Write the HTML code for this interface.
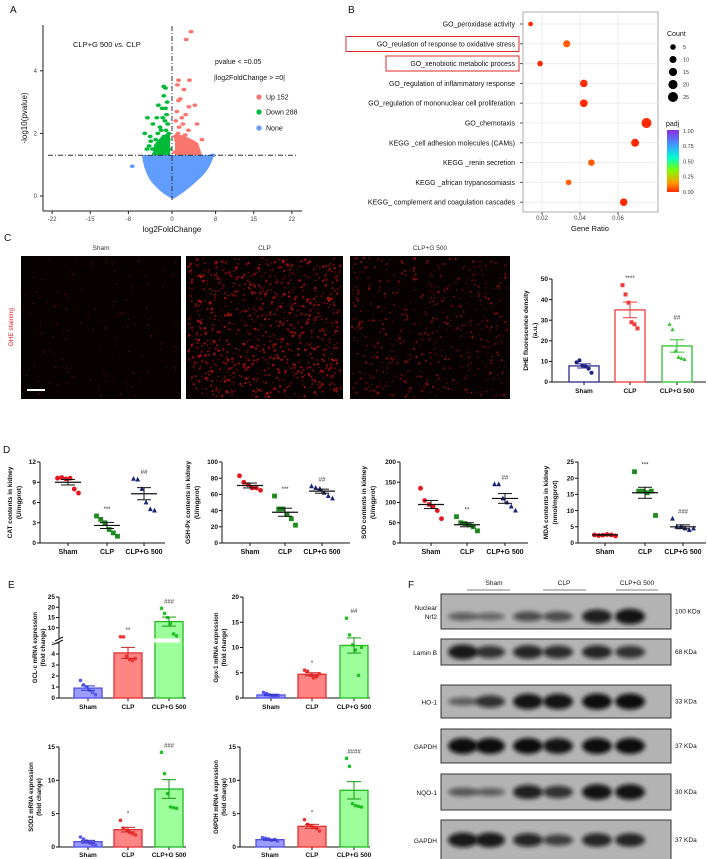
<!DOCTYPE html>
<html><head><meta charset="utf-8">
<style>
html,body{margin:0;padding:0;background:#fff;}
svg{display:block;font-family:"Liberation Sans",sans-serif;}
</style></head>
<body>
<svg id="fig" width="708" height="859" viewBox="0 0 708 859" xmlns="http://www.w3.org/2000/svg">
<defs>
<filter id="blur2" x="-50%" y="-50%" width="200%" height="200%"><feGaussianBlur stdDeviation="2.2"/></filter>
<linearGradient id="padjgrad" x1="0" y1="1" x2="0" y2="0">
<stop offset="0" stop-color="#ff2a00"/><stop offset="0.15" stop-color="#ff9a00"/><stop offset="0.35" stop-color="#7fff00"/><stop offset="0.55" stop-color="#00ffcc"/><stop offset="0.75" stop-color="#3aa0ff"/><stop offset="1" stop-color="#8a2be2"/>
</linearGradient>
</defs>
</svg>
<script>
// ---------- DATA ----------
const upFC   = [3.5,2.6,1.2,3.2,1.0,2.2,1.5,1.2,4.2,3.1,0.9,2.5,1.8,0.7,4.6,1.3,3.0,0.6,2.1,5.5,3.8,1.0,4.5,2.5,0.5,1.8,3.4,4.0,1.6,2.8,0.8,3.6,2.0,1.1,3.9,2.4];
const upP    = [5.25,5.0,3.7,3.7,3.55,3.4,3.1,3.05,2.9,2.85,2.7,2.6,2.5,2.4,2.3,2.2,2.1,1.9,1.9,1.8,1.7,1.6,1.5,1.5,1.4,1.4,1.4,1.35,1.7,1.6,1.8,1.5,2.3,2.0,1.6,1.95];
const downFC = [-1.5,-1.2,-1.5,-0.9,-2.5,-1.8,-1.0,-4.5,-2.8,-1.3,-3.5,-0.8,-5.0,-2.0,-4.0,-3.0,-1.5,-2.4,-4.2,-3.6,-1.0,-0.5,-2.8,-1.8,-3.2,-0.6,-1.1,-1.7,-2.2,-0.7,-1.4,-0.9,-3.9,-2.6,-1.2,-4.6];
const downP  = [3.5,3.45,3.2,3.0,2.9,2.8,2.6,2.5,2.5,2.4,2.3,2.3,2.0,2.1,1.9,1.8,1.9,1.7,1.6,1.5,1.6,1.5,1.45,1.4,1.35,2.0,2.1,2.5,2.2,1.8,1.6,1.7,1.75,2.0,2.8,1.5];
const noneFC = [-7.3,6.5,6.2,7.5,3.5,-4.5,4.8];
const noneP  = [0.95,1.1,1.0,1.3,1.2,1.25,1.2];
const volcTicksX = [-22,-15,-8,0,8,15,22];
const volcTicksY = [0,2,4];
const goTerms = ["GO_peroxidase activity","GO_reulation of response to oxidative stress","GO_xenobiotic metabolic process","GO_regulation of inflammatory response","GO_regulation of mononuclear cell proliferation","GO_chemotaxis","KEGG _cell adhesion molecules (CAMs)","KEGG _renin secretion","KEGG _african trypanosomiasis","KEGG_ complement and coagulation cascades"];
const geneRatio = [0.014,0.033,0.019,0.042,0.042,0.075,0.069,0.046,0.034,0.063];
const termCount = [3,10,5,12,13,25,14,8,5,12];
const termPadj  = [0.02,0.03,0.02,0.02,0.01,0.0,0.02,0.03,0.03,0.01];
const ratioTicks = [0.02,0.04,0.06];
const countLegend = [5,10,15,20,25];
const padjTicks = ["1.00","0.75","0.50","0.25","0.00"];
const groups = ["Sham","CLP","CLP+G 500"];
const dheMean = [7.8,35,17.5];
const dheSem  = [1.0,3.8,3.0];
const dhePts  = [[9.5,10.5,8,7.5,6.5,4.5],[47,42.5,38.5,29,28,26],[28,25.5,15,12,11.5,11]];
const dheTicks = [0,10,20,30,40,50];
const catPts = [[9.6,9.7,9.5,9.6,8.0,7.4],[4.0,3.5,3.0,2.0,1.5,1.0],[9.5,9.4,8.0,6.0,5.0,4.8]];
const catMean = [9.0,2.6,7.3]; const catSem=[0.4,0.45,0.9];
const gshPts = [[83,75,72,68,68,65],[58,42,42,35,30,22],[70,68,67,62,58,55]];
const gshMean = [71,38,64]; const gshSem=[3,5,2.5];
const sodPts = [[135,105,95,90,80,60],[65,50,48,45,40,30],[145,145,110,100,90,80]];
const sodMean = [95,45,110]; const sodSem=[10,5,12];
const mdaPts = [[2.5,2.3,2.4,2.6,2.5,2.2],[22,16,16,15.5,16,8.5],[7.5,5,5,4.5,4,4.5]];
const mdaMean = [2.5,15.5,5.0]; const mdaSem=[0.1,1.7,0.6];
const gclPts = [[1.6,1.2,1.0,0.7,0.5,0.3],[5.6,5.5,3.8,3.5,3.4,3.6],[19.5,17,15,12,7,6]];
const gclMean=[0.9,4.1,13]; const gclSem=[0.2,0.5,2.2];
const gpxPts = [[1.1,0.9,0.6,0.4,0.3,0.5],[5.5,5.3,4.5,4.0,4.2,4.8],[15.8,12.5,10.5,9.5,4.5,10]];
const gpxMean=[0.6,4.7,10.4]; const gpxSem=[0.15,0.3,1.5];
const sod2Pts = [[1.5,1.2,0.9,0.6,0.4,0.3],[4.0,2.8,2.5,2.2,2.0,1.8],[14.2,11,8,6,5.9,5.8]];
const sod2Mean=[0.8,2.6,8.7]; const sod2Sem=[0.2,0.35,1.4];
const g6Pts = [[1.4,1.3,1.2,1.0,1.1,0.9],[4.1,3.4,3.2,3.0,2.8,2.4],[13.3,12.1,6.5,6.2,6.1,6.0]];
const g6Mean=[1.1,3.1,8.5]; const g6Sem=[0.1,0.3,1.3];
const blotNames = ["Nuclear\nNrf2","Lamin B","HO-1","GAPDH","NQO-1","GAPDH"];
const blotKDa = ["100 KDa","68 KDa","33 KDa","37 KDa","30 KDa","37 KDa"];
const blotInt = [[0.35,0.3,0.5,0.5,0.85,0.95],[0.9,0.7,0.8,0.75,0.8,0.7],[0.35,0.7,0.95,0.95,1,1],[1,1,1,0.95,1,1],[0.4,0.35,0.85,0.7,0.95,0.95],[0.9,0.9,0.8,0.6,0.8,0.8]];

// ---------- HELPERS ----------
const NS="http://www.w3.org/2000/svg";
const svg=document.getElementById('fig');
function el(tag,attrs,parent){const e=document.createElementNS(NS,tag);for(const k in attrs)e.setAttribute(k,attrs[k]);(parent||svg).appendChild(e);return e;}
function txt(x,y,s,size,parent,extra){const a=Object.assign({x:x,y:y,'font-size':size,fill:'#111'},extra||{});const t=el('text',a,parent);t.textContent=s;return t;}
function grp(name){const g=el('g',{});return g;}

[["A",10,13],["B",348,13],["C",4,241],["D",3,453],["E",8,588],["F",408,588]].forEach(p=>{
 const t=txt(p[1],p[2],p[0],10,svg,{});
 
 
});

// ---------- PANEL A ----------
(function(){
 const g=grp('volcano-plot');
 const xA=v=>172+v*5.45, yA=v=>196-v*31.3;
 el('line',{x1:43,y1:25,x2:43,y2:211,stroke:'#222','stroke-width':1},g);
 el('line',{x1:43,y1:211,x2:302,y2:211,stroke:'#222','stroke-width':1},g);
 volcTicksX.forEach(v=>{el('line',{x1:xA(v),y1:211,x2:xA(v),y2:214,stroke:'#222'},g);
  const t=txt(xA(v),221,String(v),6,g,{'text-anchor':'middle',fill:'#444'});});
 volcTicksY.forEach(v=>{el('line',{x1:40,y1:yA(v),x2:43,y2:yA(v),stroke:'#222'},g);
  const t=txt(37,yA(v)+2,String(v),6,g,{'text-anchor':'end',fill:'#444'});});
 const xt=txt(172,232,'log2FoldChange',8,g,{'text-anchor':'middle'});
 const yt=txt(0,0,'-log10(pvalue)',8,g,{'text-anchor':'middle',transform:'translate(27,118) rotate(-90)'});
 const cloud=el('path',{d:'M142,155 L214,155 Q210,170 198,180 Q184,193 173,199 Q160,193 150,180 Q143,168 142,155 Z',fill:'#619cff'},g);
 
 const dense1=el('path',{d:'M153,155 L170,155 L170,132 Q160,136 154,145 Z',fill:'#00ba38'},g);
 
 const dense2=el('path',{d:'M175,155 L202,155 L198,143 Q188,136 175,134 Z',fill:'#f8766d'},g);
 
 noneFC.forEach((v,i)=>{const c=el('ellipse',{cx:xA(v),cy:yA(noneP[i]),rx:2.5,ry:1.8,fill:'#619cff'},g);});
 downFC.forEach((v,i)=>{const c=el('ellipse',{cx:xA(v),cy:yA(downP[i]),rx:2.5,ry:1.8,fill:'#00ba38'},g);});
 upFC.forEach((v,i)=>{const c=el('ellipse',{cx:xA(v),cy:yA(upP[i]),rx:2.5,ry:1.8,fill:'#f8766d'},g);});
 el('line',{x1:48,y1:yA(1.3),x2:298,y2:yA(1.3),stroke:'#333','stroke-width':1,'stroke-dasharray':'5,2,1,2'},g);
 el('line',{x1:172,y1:26,x2:172,y2:200,stroke:'#333','stroke-width':1,'stroke-dasharray':'5,2,1,2'},g);
 const ti=txt(73,47,'CLP+G 500 ',7.5,g,{});const ts=el('tspan',{'font-style':'italic'},ti);ts.textContent='vs.';const ts2=el('tspan',{},ti);ts2.textContent=' CLP';
 
 const l1=txt(215,64,'pvalue < =0.05',7,g,{});
 const l2=txt(214,80,'|log2FoldChange > =0|',7,g,{});
 [['Up 152','#f8766d',97],['Down 288','#00ba38',112],['None','#619cff',128]].forEach(e=>{
  const lg=grp('legend-entry');svg.removeChild(lg);g.appendChild(lg);
  el('circle',{cx:259,cy:e[2],r:2.6,fill:e[1]},lg);txt(266,e[2]+2.5,e[0],7,lg,{});});
})();

// ---------- PANEL B ----------
(function(){
 const g=grp('go-kegg-dotplot');
 const x0=523,x1=658,yT=12,yB=212;
 const xB=r=>542+(r-0.02)*1900;
 const yRow=i=>24+i*19.8;
 el('rect',{x:x0,y:yT,width:x1-x0,height:yB-yT,fill:'#fff',stroke:'#999','stroke-width':0.8},g);
 ratioTicks.forEach(r=>{el('line',{x1:xB(r),y1:yT,x2:xB(r),y2:yB,stroke:'#ececec'},g);
  el('line',{x1:xB(r),y1:yB,x2:xB(r),y2:yB+3,stroke:'#555'},g);
  const t=txt(xB(r),220,r.toFixed(2),6,g,{'text-anchor':'middle',fill:'#444'});});
 goTerms.forEach((s,i)=>{el('line',{x1:x0,y1:yRow(i),x2:x1,y2:yRow(i),stroke:'#ececec'},g);
  el('line',{x1:x0-3,y1:yRow(i),x2:x0,y2:yRow(i),stroke:'#555'},g);
  const t=txt(515,yRow(i)+2.5,s,7,g,{'text-anchor':'end'});});
 const rad=c=>1+Math.sqrt(c)*0.8;
 goTerms.forEach((s,i)=>{const col=termPadj[i]>0.02?'#ff5a00':'#ff2a00';
  const c=el('circle',{cx:xB(geneRatio[i]),cy:yRow(i),r:rad(termCount[i]),fill:col},g);});
 const h1=el('rect',{x:346,y:36.5,width:173,height:15,fill:'none',stroke:'#e0282c','stroke-width':1},g);
 const h2=el('rect',{x:386,y:56,width:133,height:15,fill:'none',stroke:'#e0282c','stroke-width':1},g);
 const gx=txt(590,231,'Gene Ratio',7.5,g,{'text-anchor':'middle'});
 const ct=txt(667,36,'Count',7,g,{});
 countLegend.forEach((c,i)=>{const y=47+i*12.5;el('circle',{cx:673,cy:y,r:rad(c),fill:'#000'},g);const t=txt(683,y+2,String(c),5.5,g,{fill:'#333'});});
 const pt=txt(666,126,'padj',7,g,{});
 const cb=el('rect',{x:667,y:130,width:12,height:62,fill:'url(#padjgrad)'},g);
 padjTicks.forEach((s,i)=>{const y=131+i*15.2;txt(683,y+2,s,5.5,g,{fill:'#333'});});
})();

// ---------- PANEL C images ----------
(function(){
 const imgs=[[21,181,'Sham',160,'#5a0808',0.8],[186,343,'CLP',900,'#b81414',1.05],[350,510,'CLP+G 500',520,'#961010',1.0]];
 let seed=12345;const rnd=()=>{seed=(seed*1103515245+12345)%2147483648;return seed/2147483648;};
 imgs.forEach(im=>{
  const g=grp('dhe-image-'+im[2].toLowerCase().replace(/[^a-z0-9]+/g,'-'));
  el('rect',{x:im[0],y:256,width:im[1]-im[0],height:143,fill:'#070101'},g);
  const t=txt((im[0]+im[1])/2,250,im[2],6.5,g,{'text-anchor':'middle',fill:'#333'});
  for(let k=0;k<im[3];k++){el('circle',{cx:im[0]+2+rnd()*(im[1]-im[0]-4),cy:258+rnd()*139,r:im[5]*(0.6+rnd()*0.7),fill:im[4],opacity:0.4+rnd()*0.5},g);}
 });
 const sb=el('rect',{x:27,y:389,width:18,height:2,fill:'#fff'},svg);
 const dl=txt(0,0,'DHE staining',6.5,svg,{'text-anchor':'middle',fill:'#e02020',transform:'translate(13,327) rotate(-90)'});
})();

const C_SCAT=['#e8141c','#1f8a1f','#1a237e'];
function marker(shape,x,y,col,g,s){
 let m;
 if(shape==='circle')m=el('circle',{cx:x,cy:y,r:s,fill:col},g);
 else if(shape==='square')m=el('rect',{x:x-s,y:y-s,width:2*s,height:2*s,fill:col},g);
 else m=el('polygon',{points:`${x},${y-s*1.2} ${x-s},${y+s*0.8} ${x+s},${y+s*0.8}`,fill:col},g);
 return m;
}
function plot(o){
 const g=grp(o.name);
 const y=o.yf||(v=>o.yB-(v/o.max)*(o.yB-o.yT));
 el('line',{x1:o.x0,y1:o.yT,x2:o.x0,y2:o.yB,stroke:'#111','stroke-width':1},g);
 el('line',{x1:o.x0,y1:o.yB,x2:o.x1,y2:o.yB,stroke:'#111','stroke-width':1},g);
 o.ticks.forEach(v=>{el('line',{x1:o.x0-3,y1:y(v),x2:o.x0,y2:y(v),stroke:'#111'},g);
  const t=txt(o.x0-4,y(v)+2.2,String(v),6.5,g,{'text-anchor':'end','font-weight':'bold'});});
 groups.forEach((s,i)=>{el('line',{x1:o.cx[i],y1:o.yB,x2:o.cx[i],y2:o.yB+3,stroke:'#111'},g);
  const t=txt(o.cx[i],o.yB+(o.labDy||11),s,o.labSize||7,g,{'text-anchor':'middle','font-weight':'bold'});});
 o.titles.forEach((s,k)=>{const t=txt(0,0,s,o.titleSize||6.5,g,{'text-anchor':'middle','font-weight':'bold',transform:`translate(${o.tx+k*(o.titleGap||9)},${(o.yT+o.yB)/2}) rotate(-90)`});});
 for(let i=0;i<3;i++){
  const m=o.mean[i],se=o.sem[i],cx=o.cx[i];
  if(o.bars){const b=el('rect',{x:cx-o.bw/2,y:y(m),width:o.bw,height:o.yB-y(m),fill:o.bars[i][0],stroke:o.bars[i][1],'stroke-width':1.3},g);}
  o.pts[i].forEach((v,j)=>marker(o.shapes[i],cx+(j-2.5)*(o.jit||3.2),y(v),o.pcol[i],g,o.ps||2));
  const ec=o.ecol?o.ecol[i]:'#111';
  const eb=grp('error-bar');svg.removeChild(eb);g.appendChild(eb);
  if(!o.bars)el('line',{x1:cx-13,y1:y(m),x2:cx+13,y2:y(m),stroke:ec,'stroke-width':1.2},eb);
  el('line',{x1:cx,y1:y(m-se),x2:cx,y2:y(m+se),stroke:ec,'stroke-width':1},eb);
  el('line',{x1:cx-7,y1:y(m+se),x2:cx+7,y2:y(m+se),stroke:ec,'stroke-width':1},eb);
  el('line',{x1:cx-7,y1:y(m-se),x2:cx+7,y2:y(m-se),stroke:ec,'stroke-width':1},eb);
  if(o.stars[i]){const mx=Math.max(...o.pts[i],m+se);const t=txt(cx,y(mx)-(o.starGap||5),o.stars[i],6,g,{'text-anchor':'middle',fill:'#222'});}
 }
 return {g,y};
}

plot({name:'dhe-density-chart',x0:552,x1:706,yT:279,yB:382,max:50,ticks:dheTicks,cx:[584,630,677],pts:dhePts,mean:dheMean,sem:dheSem,
 bars:[['#fff','#2b2b8f'],['#fff','#ef3b3b'],['#fff','#2ec02e']],bw:30,shapes:['circle','square','triangle'],pcol:['#1a237e','#ef3b3b','#2ec02e'],ecol:['#2b2b8f','#ef3b3b','#2ec02e'],
 stars:['','****','##'],titles:['DHE fluorescence density','(a.u.)'],tx:528,titleGap:9,labSize:6.5,ps:2,jit:3});

const shD=['circle','square','triangle'];
plot({name:'cat-chart',x0:40,x1:165,yT:462,yB:543,max:12,ticks:[0,3,6,9,12],cx:[68,107,144],pts:catPts,mean:catMean,sem:catSem,shapes:shD,pcol:C_SCAT,stars:['','***','##'],titles:['CAT contents in  kidney','(U/mgprot)'],tx:12,ps:2.4,jit:4.2});
plot({name:'gsh-px-chart',x0:222,x1:350,yT:462,yB:543,max:100,ticks:[0,20,40,60,80,100],cx:[250,285,322],pts:gshPts,mean:gshMean,sem:gshSem,shapes:shD,pcol:C_SCAT,stars:['','***','##'],titles:['GSH-Px contents in  kidney','(U/mgprot)'],tx:190,ps:2.4,jit:4.2});
plot({name:'sod-chart',x0:400,x1:528,yT:462,yB:543,max:200,ticks:[0,50,100,150,200],cx:[431,467,505],pts:sodPts,mean:sodMean,sem:sodSem,shapes:shD,pcol:C_SCAT,stars:['','**','##'],titles:['SOD contents in  kidney','(U/mgprot)'],tx:366,ps:2.4,jit:4.2});
plot({name:'mda-chart',x0:578,x1:706,yT:462,yB:543,max:25,ticks:[0,5,10,15,20,25],cx:[605,645,683],pts:mdaPts,mean:mdaMean,sem:mdaSem,shapes:shD,pcol:C_SCAT,stars:['','***','###'],titles:['MDA contents in kidney','(nmol/mgprot)'],tx:548,ps:2.4,jit:4.2});

const barsE=[['#9c9cff','#4f4fe8'],['#ff8585','#e83030'],['#9cff9c','#22b822']];
const pcolE=['#5a5af0','#f03030','#20c020'];
const shE=['circle','circle','circle'];
const gcl=plot({name:'gcl-c-chart',x0:59,x1:186,yT:597,yB:698,max:25,ticks:[0,1,2,3,4,5,10,15,20,25],
 yf:v=>v<=5?698-v*11:638-(v-5)*2.05,cx:[88,128,169],pts:gclPts,mean:gclMean,sem:gclSem,bars:barsE,bw:28,shapes:shE,pcol:pcolE,ecol:['#3333cc','#cc2222','#119911'],
 stars:['','**','###'],titles:['GCL-c mRNA expression','(fold change)'],tx:37,titleSize:6,titleGap:8,labSize:6.5,ps:1.8,jit:3});
(function(){const b=el('rect',{x:50,y:638.5,width:130,height:4,fill:'#fff'},gcl.g);
 el('line',{x1:55,y1:641,x2:63,y2:637,stroke:'#111'},gcl.g);el('line',{x1:55,y1:644,x2:63,y2:640,stroke:'#111'},gcl.g);})();
plot({name:'gpx-1-chart',x0:243,x1:370,yT:597,yB:698,max:20,ticks:[0,5,10,15,20],cx:[271,312,354],pts:gpxPts,mean:gpxMean,sem:gpxSem,bars:barsE,bw:28,shapes:shE,pcol:pcolE,ecol:['#3333cc','#cc2222','#119911'],
 stars:['','*','##'],titles:['Gpx-1 mRNA expression','(fold change)'],tx:218,titleSize:6,titleGap:8,labSize:6.5,ps:1.8,jit:3});
plot({name:'sod2-chart',x0:59,x1:186,yT:747,yB:847,max:15,ticks:[0,5,10,15],cx:[88,128,169],pts:sod2Pts,mean:sod2Mean,sem:sod2Sem,bars:barsE,bw:28,shapes:shE,pcol:pcolE,ecol:['#3333cc','#cc2222','#119911'],
 stars:['','*','###'],titles:['SOD2 mRNA expression','(fold change)'],tx:33,titleSize:6,titleGap:8,labSize:6.5,ps:1.8,jit:3,labDy:10});
plot({name:'g6pdh-chart',x0:240,x1:370,yT:747,yB:847,max:15,ticks:[0,5,10,15],cx:[270,312,354],pts:g6Pts,mean:g6Mean,sem:g6Sem,bars:barsE,bw:28,shapes:shE,pcol:pcolE,ecol:['#3333cc','#cc2222','#119911'],
 stars:['','*','####'],titles:['G6PDH mRNA expression','(fold change)'],tx:218,titleSize:6,titleGap:8,labSize:6.5,ps:1.8,jit:3,labDy:10});

// ---------- PANEL F ----------
(function(){
 const g=grp('western-blot-panel');
 const hdr=[['Sham',494,467,510],['CLP',564,543,586],['CLP+G 500',637,616,658]];
 hdr.forEach(h=>{const t=txt(h[1],585,h[0],6.5,g,{'text-anchor':'middle'});
  el('line',{x1:h[2],y1:590,x2:h[3],y2:590,stroke:'#555','stroke-width':0.8},g);});
 const rows=[[594,629],[639,665],[685,718],[729,763],[774,810],[820,860]];
 const lanes=[463,490,528,558,597,630];
 rows.forEach((r,i)=>{
  const rg=grp('blot-'+blotNames[i].toLowerCase().replace(/[^a-z0-9]+/g,'-'));svg.removeChild(rg);g.appendChild(rg);
  el('rect',{x:441,y:r[0],width:230,height:r[1]-r[0],fill:'#b3b3b3',stroke:'#333','stroke-width':1},rg);
  const cy=i===0?(r[0]+r[1])/2+5:(r[0]+r[1])/2;
  lanes.forEach((lx,j)=>{const v=blotInt[i][j];
   el('ellipse',{cx:lx,cy:cy,rx:15,ry:2+v*6,fill:'#0d0d0d',opacity:0.25+v*0.75,filter:'url(#blur2)'},rg);});
  const parts=blotNames[i].split('\n');
  parts.forEach((p,k)=>{const t=txt(437,(r[0]+r[1])/2+3-(parts.length-1)*4.5+k*9,p,6.5,rg,{'text-anchor':'end'});});
  const kd=txt(675,(r[0]+r[1])/2+2,blotKDa[i],6.5,rg,{});
 });
})();
</script>
</body></html>
